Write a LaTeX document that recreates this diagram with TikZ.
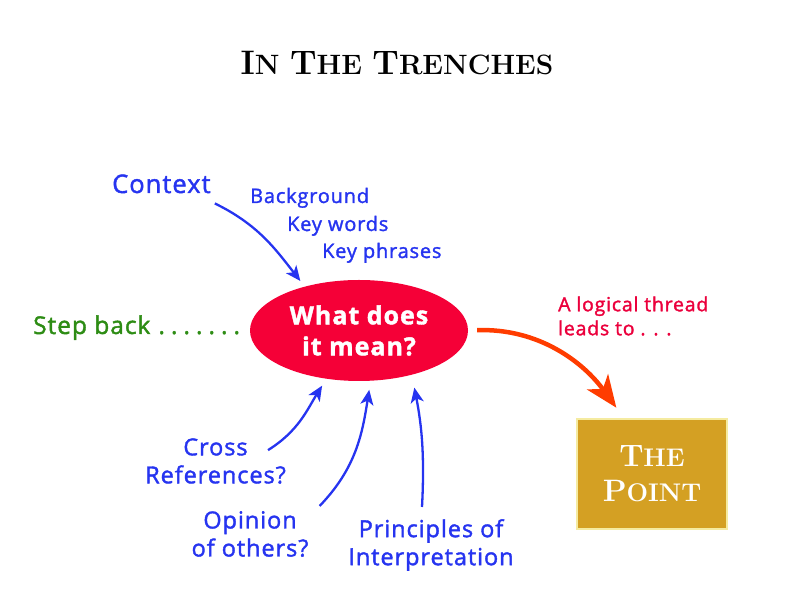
\documentclass[tikz,border=0pt]{standalone}
\usepackage{fontspec}
\usepackage{xcolor}
\usepackage{tikz}
\usetikzlibrary{arrows.meta, positioning, shapes.geometric}
\newfontfamily\labelfont{Open Sans}[FakeBold=1.6, LetterSpace=4]
\definecolor{CueBlue}{RGB}{38, 52, 240}
\definecolor{StepGreen}{RGB}{45, 140, 20}
\definecolor{MeanRed}{RGB}{245, 0, 55}
\definecolor{ThreadRed}{RGB}{235, 0, 60}
\definecolor{ThreadOrange}{RGB}{255, 60, 0}
\definecolor{PointGold}{RGB}{212, 160, 35}
\definecolor{PointEdge}{RGB}{245, 235, 160}
\newcommand{\capbig}[1]{{\fontsize{34}{34}\selectfont #1}}
\newcommand{\capmid}[1]{{\fontsize{31}{31}\selectfont #1}}
\tikzset{
  cue/.style={text=CueBlue, font=\labelfont\fontsize{23.5}{28}\selectfont, align=center, inner sep=0pt},
  cuenote/.style={anchor=base west, text=CueBlue, font=\labelfont\fontsize{20}{24}\selectfont, inner sep=0pt},
  cuearrow/.style={draw=CueBlue, line width=2.3pt, -{Stealth[length=15pt, width=13pt, inset=4pt]}}
}

\begin{document}
\begin{tikzpicture}[x=1pt, y=1pt]
  \useasboundingbox (0,0) rectangle (792,612);

  \node[anchor=base, inner sep=0pt, font=\bfseries\fontsize{28}{28}\selectfont] (title) at (397,537)
    {\capbig{I}N \capbig{T}HE \capbig{T}RENCHES};

  \node[
    ellipse,
    fill=MeanRed,
    minimum width=218pt,
    minimum height=101pt,
    inner sep=0pt,
    text=white,
    align=center,
    font=\labelfont\bfseries\fontsize{25}{31}\selectfont
  ] (mean) at (359,281.5) {What does\\it mean?};

  \node[anchor=base west, inner sep=0pt, text=CueBlue,
        font=\labelfont\fontsize{25.5}{30}\selectfont] (context) at (112,419) {Context};
  \node[cuenote] (background) at (250,409) {Background};
  \node[cuenote] (keywords) at (287,381) {Key words};
  \node[cuenote] (keyphrases) at (322,354) {Key phrases};

  \node[anchor=base west, inner sep=0pt, text=StepGreen,
        font=\labelfont\fontsize{24.5}{30}\selectfont] (stepback) at (33,278)
    {Step back\kern8pt.\kern6pt.\kern6pt.\kern6pt.\kern6pt.\kern6pt.\kern6pt.};

  \node[anchor=west, inner sep=0pt, text=ThreadRed, align=left,
        font=\labelfont\fontsize{19.5}{24}\selectfont] (thread) at (558,296)
    {A logical thread\\leads to . . .};

  \node[
    fill=PointGold,
    draw=PointEdge,
    line width=1.5pt,
    minimum width=150pt,
    minimum height=110pt,
    text=white,
    align=center,
    font=\bfseries\fontsize{25.5}{35}\selectfont
  ] (point) at (652,138) {\capmid{T}HE\\\capmid{P}OINT};

  \node[cue] (cross) at (215.5,151) {Cross\\References?};
  \node[cue] (opinion) at (250,78) {Opinion\\of others?};
  \node[cue] (principles) at (431,67) {Principles of\\Interpretation};

  % arrows into the question
  \draw[cuearrow, shorten >=7pt] ([shift={(4,-10)}]context.south east) to[out=-26, in=128] (mean.141);
  \draw[cuearrow, shorten >=8pt] ([shift={(-18,-12)}]cross.north east) to[out=32, in=-122] (mean.236);
  \draw[cuearrow, shorten >=9pt] ([shift={(11,5)}]opinion.north east) to[out=46, in=-99] (mean.283);
  \draw[cuearrow, shorten >=13pt] ([shift={(-9,12)}]principles.north) to[out=87, in=-79] (mean.320);

  % the thread
  \draw[draw=ThreadOrange, line width=4.5pt, -{Stealth[length=32pt, width=26pt, inset=9pt]},
        shorten <=9pt, shorten >=13pt] (mean.east) to[out=2, in=126] ([xshift=-28pt]point.north);
\end{tikzpicture}
\end{document}
